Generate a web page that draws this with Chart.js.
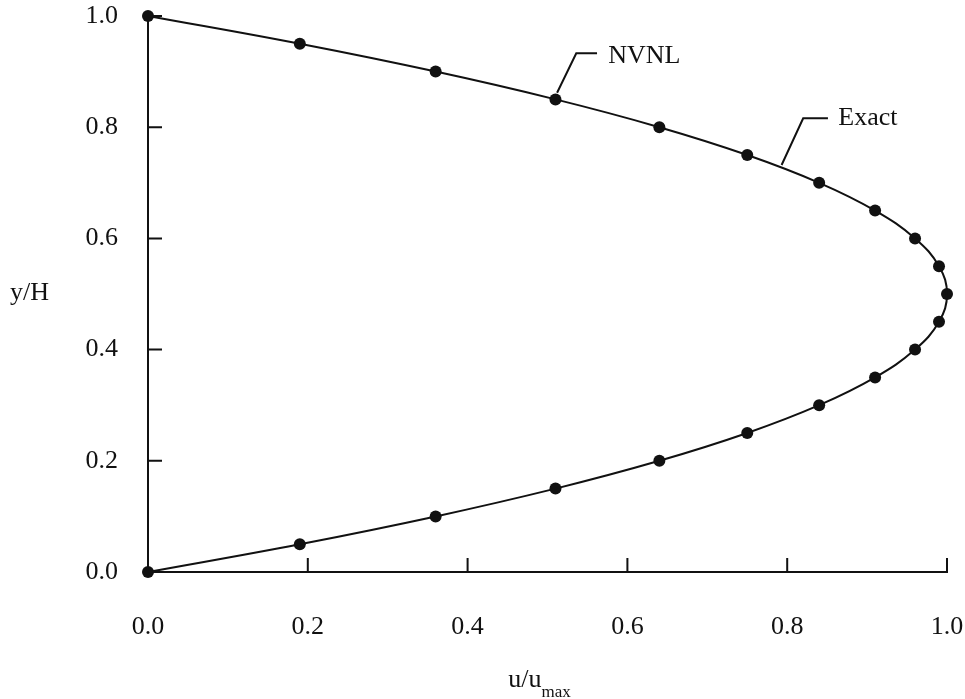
<!DOCTYPE html>
<html>
<head>
<meta charset="utf-8">
<script src="https://cdn.jsdelivr.net/npm/chart.js@4.4.1/dist/chart.umd.min.js"></script>
<style>
  html, body { margin: 0; padding: 0; background: #fff; }
  #wrap { width: 965px; height: 699px; }
</style>
</head>
<body>
<div id="wrap"><canvas id="myChartPerfil"></canvas></div>
<script>
// y/H positions
var yH = [0.00, 0.05, 0.10, 0.15, 0.20, 0.25, 0.30, 0.35, 0.40, 0.45, 0.50,
          0.55, 0.60, 0.65, 0.70, 0.75, 0.80, 0.85, 0.90, 0.95, 1.00];
// NVNL result u/umax (dots)
var uNVNL = [0.00, 0.19, 0.36, 0.51, 0.64, 0.75, 0.84, 0.91, 0.96, 0.99, 1.00,
             0.99, 0.96, 0.91, 0.84, 0.75, 0.64, 0.51, 0.36, 0.19, 0.00];
// exact profile u/umax (solid line)
var uExact = [0.00, 0.19, 0.36, 0.51, 0.64, 0.75, 0.84, 0.91, 0.96, 0.99, 1.00,
              0.99, 0.96, 0.91, 0.84, 0.75, 0.64, 0.51, 0.36, 0.19, 0.00];
var xTicks = [0.0, 0.2, 0.4, 0.6, 0.8, 1.0];
var yTicks = [0.0, 0.2, 0.4, 0.6, 0.8, 1.0];

var fuente = 'Liberation Serif';
var negro = '#111111';

function puntos(xs, ys) {
    var out = [];
    for (var i = 0; i < xs.length; i++) out.push({ x: xs[i], y: ys[i] });
    return out;
}

// ticks hacia adentro, titulos y rotulos con lineas guia
var decoraciones = {
    id: 'decoraciones',
    afterDraw: function (chart) {
        var ctx = chart.ctx;
        var sx = chart.scales.x, sy = chart.scales.y;
        var x0 = sx.getPixelForValue(0), y0 = sy.getPixelForValue(0);
        ctx.save();
        ctx.strokeStyle = negro;
        ctx.lineWidth = 2;
        ctx.beginPath();
        xTicks.forEach(function (v) {
            if (v === 0) return;
            var px = sx.getPixelForValue(v);
            ctx.moveTo(px, y0); ctx.lineTo(px, y0 - 14);
        });
        yTicks.forEach(function (v) {
            if (v === 0) return;
            var py = sy.getPixelForValue(v);
            ctx.moveTo(x0, py); ctx.lineTo(x0 + 14, py);
        });
        ctx.stroke();

        // lineas guia
        function guia(p) {
            ctx.beginPath();
            ctx.moveTo(sx.getPixelForValue(p[0][0]), sy.getPixelForValue(p[0][1]));
            for (var i = 1; i < p.length; i++) {
                ctx.lineTo(sx.getPixelForValue(p[i][0]), sy.getPixelForValue(p[i][1]));
            }
            ctx.stroke();
        }
        ctx.lineWidth = 2;
        guia([[0.512, 0.862], [0.536, 0.933], [0.562, 0.933]]);
        guia([[0.793, 0.732], [0.820, 0.816], [0.851, 0.816]]);

        ctx.fillStyle = negro;
        ctx.font = '26px "' + fuente + '"';
        ctx.textBaseline = 'middle';
        ctx.textAlign = 'left';
        ctx.fillText('NVNL', sx.getPixelForValue(0.576), sy.getPixelForValue(0.927));
        ctx.fillText('Exact', sx.getPixelForValue(0.864), sy.getPixelForValue(0.816));

        // titulo eje y
        ctx.fillText('y/H', 10, 293);

        // titulo eje x con subindice
        ctx.textBaseline = 'alphabetic';
        var base = 'u/u';
        var w1 = ctx.measureText(base).width;
        ctx.font = '17px "' + fuente + '"';
        var w2 = ctx.measureText('max').width;
        var xc = sx.getPixelForValue(0.49);
        var xs = xc - (w1 + w2) / 2;
        ctx.font = '26px "' + fuente + '"';
        ctx.fillText(base, xs, 687);
        ctx.font = '17px "' + fuente + '"';
        ctx.fillText('max', xs + w1, 697);
        ctx.restore();
    }
};

function initializeChartPerfil() {
    var ctx = document.getElementById('myChartPerfil').getContext('2d');
    var mychart = new Chart(ctx, {
        type: 'scatter',
        data: {
            datasets: [{
                label: 'Exact',
                data: puntos(uExact, yH),
                showLine: true,
                borderColor: negro,
                borderWidth: 2,
                tension: 0.4,
                pointRadius: 0,
                fill: false,
                clip: false
            }, {
                label: 'NVNL',
                data: puntos(uNVNL, yH),
                showLine: false,
                backgroundColor: negro,
                borderColor: negro,
                pointRadius: 6,
                pointBorderWidth: 0,
                clip: false
            }]
        },
        options: {
            responsive: true,
            maintainAspectRatio: false,
            animation: false,
            layout: { padding: { left: 0, top: 16, right: 18, bottom: 0 } },
            plugins: {
                legend: { display: false },
                tooltip: { enabled: false }
            },
            scales: {
                x: {
                    type: 'linear',
                    min: 0, max: 1,
                    afterFit: function (scale) {
                        scale.height = 127;
                        scale.paddingLeft = 0;
                        scale.paddingRight = 0;
                    },
                    afterBuildTicks: function (scale) {
                        scale.ticks = xTicks.map(function (v) { return { value: v }; });
                    },
                    grid: { display: false, drawTicks: false },
                    border: { display: true, color: negro, width: 2 },
                    ticks: {
                        padding: 40,
                        color: negro,
                        font: { family: fuente, size: 26 },
                        maxRotation: 0,
                        callback: function (v) { return v.toFixed(1); }
                    }
                },
                y: {
                    type: 'linear',
                    min: 0, max: 1,
                    afterFit: function (scale) {
                        scale.width = 148;
                        scale.paddingTop = 0;
                        scale.paddingBottom = 0;
                    },
                    afterBuildTicks: function (scale) {
                        scale.ticks = yTicks.map(function (v) { return { value: v }; });
                    },
                    grid: { display: false, drawTicks: false },
                    border: { display: true, color: negro, width: 2 },
                    ticks: {
                        padding: 30,
                        color: negro,
                        font: { family: fuente, size: 26 },
                        callback: function (v) { return v.toFixed(1); }
                    }
                }
            }
        },
        plugins: [decoraciones]
    });
}

initializeChartPerfil();
</script>
</body>
</html>
